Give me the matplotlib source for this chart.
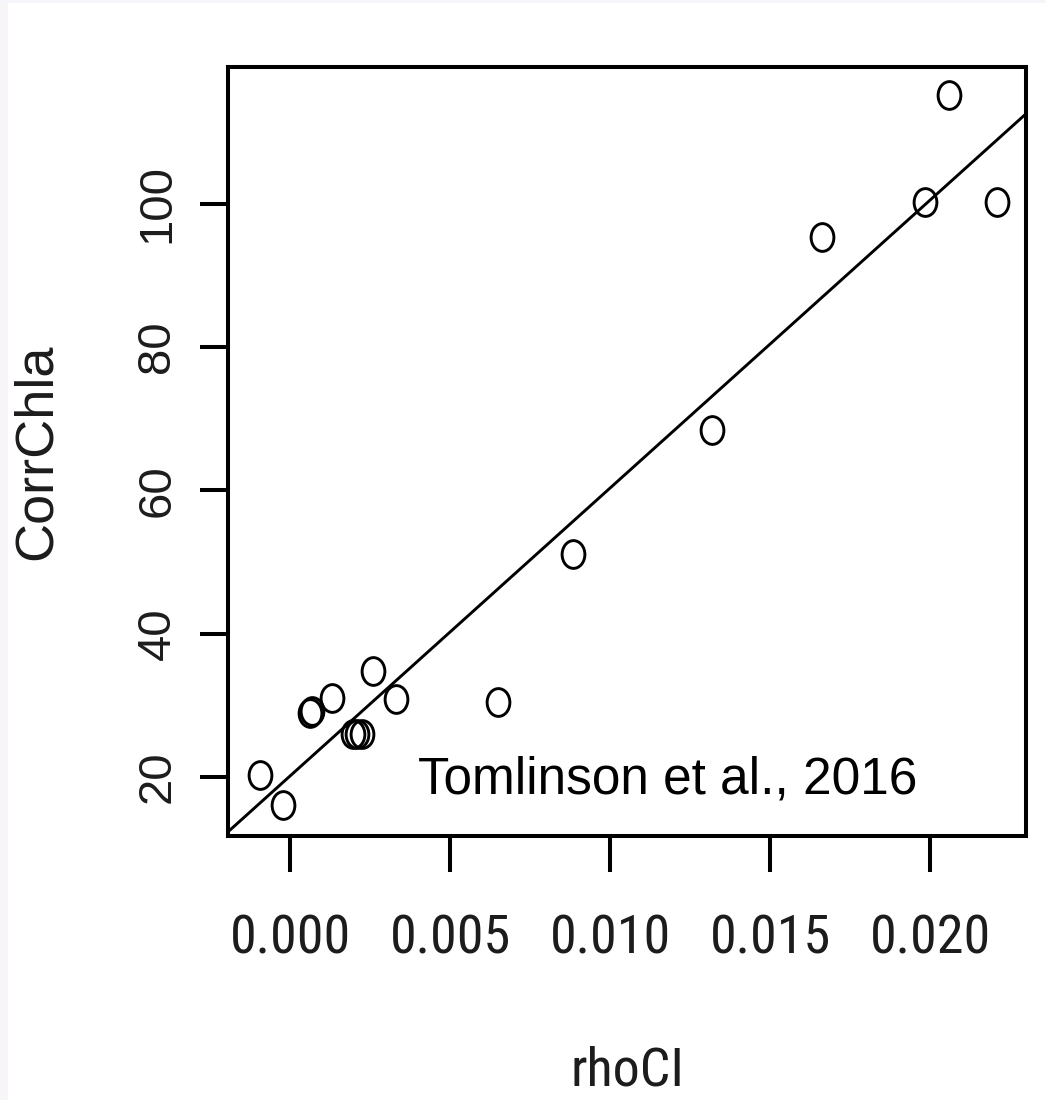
import os
import numpy as np
import matplotlib
matplotlib.use("Agg")
import matplotlib.pyplot as plt
from matplotlib import font_manager
from matplotlib.font_manager import FontProperties
from matplotlib.path import Path
from matplotlib.patches import Rectangle

# observations: cyanobacteria index vs corrected chlorophyll-a
rho_ci = [-0.00094, -0.00022, 0.00063, 0.00069, 0.00131, 0.00197, 0.00210,
          0.00225, 0.00259, 0.00331, 0.00650, 0.00884, 0.01319, 0.01663,
          0.01984, 0.02059, 0.02209]
corr_chla = [20.3, 16.1, 28.9, 29.2, 31.0, 26.0, 26.0,
             26.0, 34.8, 30.9, 30.5, 51.1, 68.4, 95.3,
             100.2, 115.2, 100.2]

x_ticks = [0.000, 0.005, 0.010, 0.015, 0.020]
x_ticklabels = ["0.000", "0.005", "0.010", "0.015", "0.020"]
y_ticks = [20, 40, 60, 80, 100]
y_ticklabels = ["20", "40", "60", "80", "100"]

plt.rcParams["font.family"] = ["Liberation Sans", "DejaVu Sans"]


def narrow_font(size):
    # a narrow sans for the horizontal axis text, if one is on the system
    wanted = ["LiberationSansNarrow-Regular.ttf", "NotoSans-Condensed.ttf",
              "RobotoCondensed-Regular.ttf", "NotoSans-SemiCondensed.ttf"]
    files = set(font_manager.findSystemFonts())
    files |= {f.fname for f in font_manager.fontManager.ttflist}
    by_name = {os.path.basename(f): f for f in files}
    for w in wanted:
        if w in by_name:
            return FontProperties(fname=by_name[w], size=size)
    return FontProperties(family="Liberation Sans", size=size - 5)


xfont = narrow_font(39)

# open circle marker, a little taller than wide
circ = Path.unit_circle()
oval = Path(circ.vertices * np.array([1.0, 1.22]), circ.codes)

fig = plt.figure(figsize=(10.46, 11.0), dpi=100)
fig.add_artist(Rectangle((0, 0), 8 / 1046, 1, transform=fig.transFigure,
                         facecolor="#f7f5f8", edgecolor="none", zorder=0))
fig.add_artist(Rectangle((0, 1 - 3 / 1100), 1, 3 / 1100, transform=fig.transFigure,
                         facecolor="#f6f6fa", edgecolor="none", zorder=0))

ax = fig.add_axes([0.218, 0.24, 0.763, 0.699])
ax.plot(rho_ci, corr_chla, linestyle="none", marker=oval, markersize=20,
        markerfacecolor="none", markeredgecolor="black", markeredgewidth=2.1)

# least squares line, like abline(lm(...))
slope, intercept = np.polyfit(rho_ci, corr_chla, 1)
ax.axline((0, intercept), slope=slope, color="black", lw=2.1)

ax.set_xlim(-0.0019375, 0.023)
ax.set_ylim(11.77, 119.06)

ax.set_xticks(x_ticks, x_ticklabels, fontproperties=xfont, color="#1c1c1c")
ax.set_yticks(y_ticks, y_ticklabels, fontsize=34, color="#1c1c1c",
              rotation=90, va="center")
ax.tick_params(axis="x", length=26, width=2.9, pad=30)
ax.tick_params(axis="y", length=20, width=2.9, pad=15)
for s in ax.spines.values():
    s.set_linewidth(2.9)

ax.set_xlabel("rhoCI", fontproperties=xfont, color="#1c1c1c", labelpad=58)
ax.set_ylabel("CorrChla", fontsize=39, color="#1c1c1c", labelpad=53)

fig.text(418 / 1046, 1 - 793 / 1100, "Tomlinson et al., 2016", fontsize=37,
         color="black", va="baseline")

fig.savefig("out.png", dpi=100)
